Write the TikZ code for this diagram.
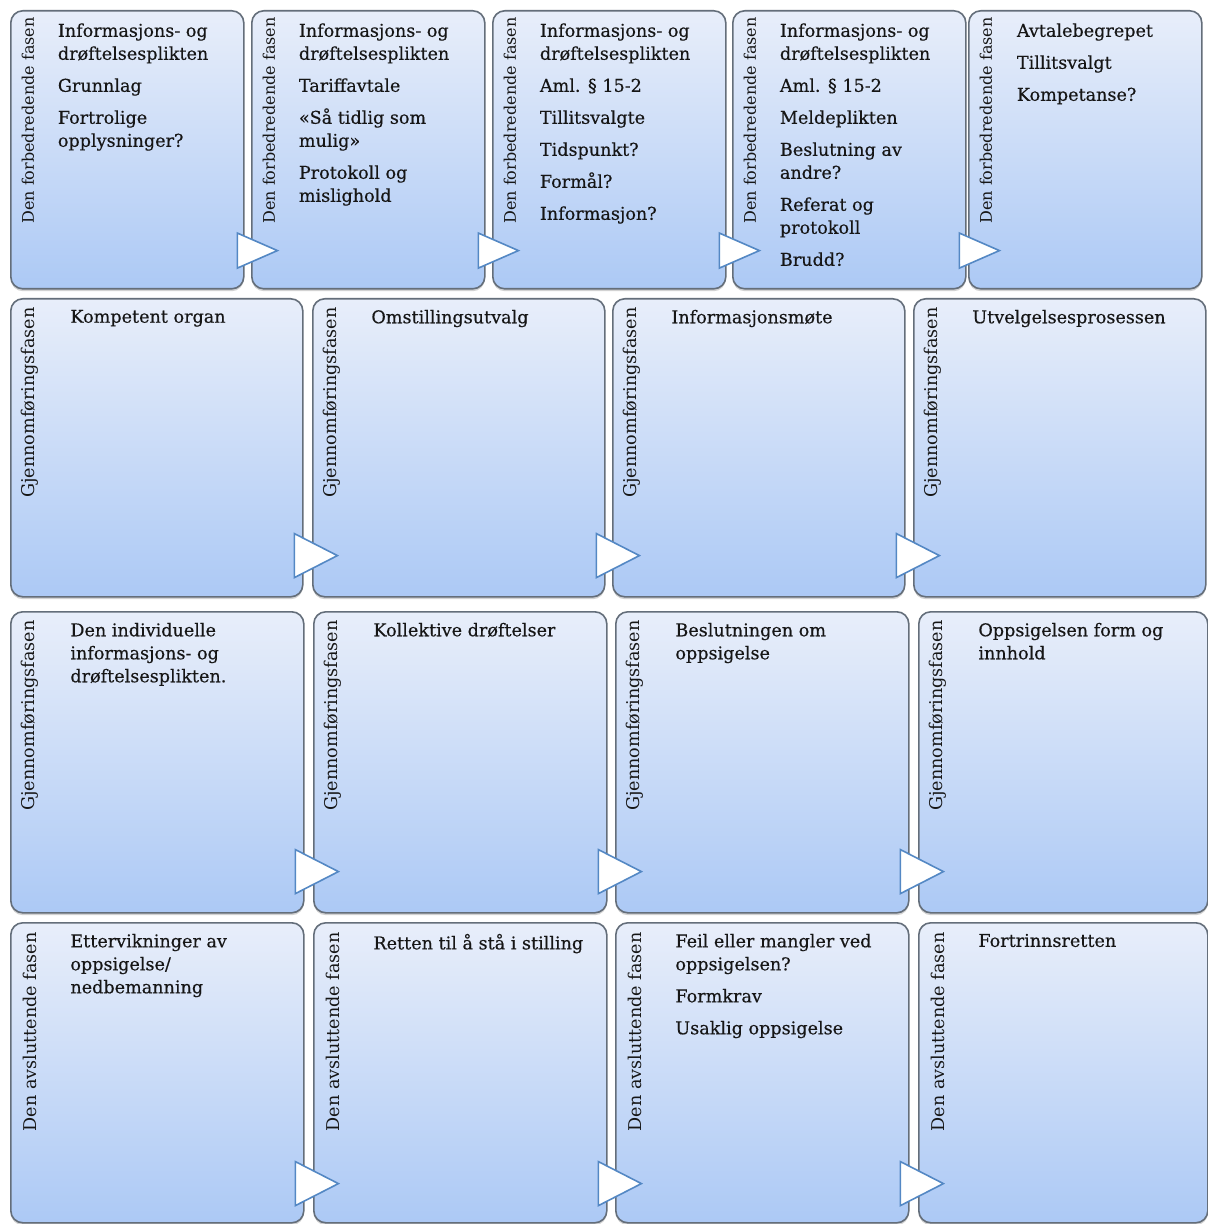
\documentclass[tikz,border=0pt]{standalone}
\usepackage{fontspec}
\setmainfont{DejaVu Serif}
\newfontfamily\cardfont[FakeBold=0.35]{DejaVu Serif}
\usetikzlibrary{calc,shadows,shapes.geometric}

\definecolor{cardtop}{RGB}{232,238,250}
\definecolor{cardbot}{RGB}{172,201,245}
\definecolor{cardline}{RGB}{100,110,122}
\definecolor{triline}{RGB}{84,136,196}
\definecolor{ink}{RGB}{22,22,22}

\begin{document}
\begin{tikzpicture}[x=0.5pt, y=-0.5pt,
    card/.style={draw=cardline, line width=0.8pt, rounded corners=6pt,
      top color=cardtop, bottom color=cardbot, anchor=north west, inner sep=0pt,
      drop shadow={shadow xshift=0pt, shadow yshift=-1.2pt, opacity=0.35}},
    size1/.style={minimum width=116.5pt, minimum height=139pt},
    size2/.style={minimum width=146pt, minimum height=149pt},
    size3/.style={minimum width=146.5pt, minimum height=150.5pt},
    size4/.style={minimum width=146.5pt, minimum height=150pt},
    phase/.style={rotate=90, anchor=east, inner sep=0pt, text=ink,
      font=\fontsize{8.8}{10}\selectfont},
    phasesmall/.style={phase, font=\fontsize{8}{9.6}\selectfont},
    body/.style={anchor=north west, align=left, inner sep=0pt, text=ink,
      font=\cardfont\fontsize{8.8}{11.5}\selectfont},
    tri/.style={isosceles triangle, isosceles triangle stretches, draw=triline,
      fill=white, line width=0.8pt, inner sep=0pt, anchor=west,
      minimum width=22pt, minimum height=21.5pt},
    trismall/.style={tri, minimum width=17.5pt, minimum height=20pt}]

  \fill[white] (0,0) rectangle (1207,1224);
  \useasboundingbox (0,0) rectangle (1207,1224);

  % Boxes
  \node[card, size1] (f1) at (10,10) {};
  \node[card, size1] (f2) at (251,10) {};
  \node[card, size1] (f3) at (492,10) {};
  \node[card, size1] (f4) at (732,10) {};
  \node[card, size1] (f5) at (968,10) {};

  \node[card, size2] (g1) at (10,298) {};
  \node[card, size2] (g2) at (312,298) {};
  \node[card, size2] (g3) at (612,298) {};
  \node[card, size2] (g4) at (913,298) {};

  \node[card, size3] (h1) at (10,611) {};
  \node[card, size3] (h2) at (313,611) {};
  \node[card, size3] (h3) at (615,611) {};
  \node[card, size3, minimum width=144.5pt] (h4) at (918,611) {};

  \node[card, size4] (s1) at (10,922) {};
  \node[card, size4] (s2) at (313,922) {};
  \node[card, size4] (s3) at (615,922) {};
  \node[card, size4, minimum width=144.5pt] (s4) at (918,922) {};

  % Arrows between boxes
  \node[trismall] (fa1) at ($(f1.south east)+(-8,-39)$) {};
  \node[trismall] (fa2) at ($(f2.south east)+(-8,-39)$) {};
  \node[trismall] (fa3) at ($(f3.south east)+(-8,-39)$) {};
  \node[trismall] (fa4) at ($(f4.south east)+(-8,-39)$) {};

  \node[tri] (ga1) at ($(g1.south east)+(-10,-42)$) {};
  \node[tri] (ga2) at ($(g2.south east)+(-10,-42)$) {};
  \node[tri] (ga3) at ($(g3.south east)+(-10,-42)$) {};

  \node[tri] (ha1) at ($(h1.south east)+(-10,-42)$) {};
  \node[tri] (ha2) at ($(h2.south east)+(-10,-42)$) {};
  \node[tri] (ha3) at ($(h3.south east)+(-10,-42)$) {};

  \node[tri] (sa1) at ($(s1.south east)+(-10,-40)$) {};
  \node[tri] (sa2) at ($(s2.south east)+(-10,-40)$) {};
  \node[tri] (sa3) at ($(s3.south east)+(-10,-40)$) {};

  % Phase labels
  \node[phasesmall] (fl1) at ($(f1.north west)+(18,7)$) {Den forbedredende fasen};
  \node[phasesmall] (fl2) at ($(f2.north west)+(18,7)$) {Den forbedredende fasen};
  \node[phasesmall] (fl3) at ($(f3.north west)+(18,7)$) {Den forbedredende fasen};
  \node[phasesmall] (fl4) at ($(f4.north west)+(18,7)$) {Den forbedredende fasen};
  \node[phasesmall] (fl5) at ($(f5.north west)+(18,7)$) {Den forbedredende fasen};

  \node[phase] (gl1) at ($(g1.north west)+(20,9)$) {Gjennomføringsfasen};
  \node[phase] (gl2) at ($(g2.north west)+(20,9)$) {Gjennomføringsfasen};
  \node[phase] (gl3) at ($(g3.north west)+(20,9)$) {Gjennomføringsfasen};
  \node[phase] (gl4) at ($(g4.north west)+(20,9)$) {Gjennomføringsfasen};

  \node[phase] (hl1) at ($(h1.north west)+(20,9)$) {Gjennomføringsfasen};
  \node[phase] (hl2) at ($(h2.north west)+(20,9)$) {Gjennomføringsfasen};
  \node[phase] (hl3) at ($(h3.north west)+(20,9)$) {Gjennomføringsfasen};
  \node[phase] (hl4) at ($(h4.north west)+(20,9)$) {Gjennomføringsfasen};

  \node[phase] (sl1) at ($(s1.north west)+(20,10)$) {Den avsluttende fasen};
  \node[phase] (sl2) at ($(s2.north west)+(20,10)$) {Den avsluttende fasen};
  \node[phase] (sl3) at ($(s3.north west)+(20,10)$) {Den avsluttende fasen};
  \node[phase] (sl4) at ($(s4.north west)+(20,10)$) {Den avsluttende fasen};

  % Contents
  \node[body] (ft1) at ($(f1.north west)+(47.5,13)$) {Informasjons- og\\drøftelsesplikten\\[4.5pt]
    Grunnlag\\[4.5pt] Fortrolige\\opplysninger?};
  \node[body] (ft2) at ($(f2.north west)+(47.5,13)$) {Informasjons- og\\drøftelsesplikten\\[4.5pt]
    Tariffavtale\\[4.5pt] «Så tidlig som\\mulig»\\[4.5pt] Protokoll og\\mislighold};
  \node[body] (ft3) at ($(f3.north west)+(47.5,13)$) {Informasjons- og\\drøftelsesplikten\\[4.5pt]
    Aml. § 15-2\\[4.5pt] Tillitsvalgte\\[4.5pt] Tidspunkt?\\[4.5pt] Formål?\\[4.5pt] Informasjon?};
  \node[body] (ft4) at ($(f4.north west)+(47.5,13)$) {Informasjons- og\\drøftelsesplikten\\[4.5pt]
    Aml. § 15-2\\[4.5pt] Meldeplikten\\[4.5pt] Beslutning av\\andre?\\[4.5pt]
    Referat og\\protokoll\\[4.5pt] Brudd?};
  \node[body] (ft5) at ($(f5.north west)+(48.5,13)$) {Avtalebegrepet\\[4.5pt] Tillitsvalgt\\[4.5pt] Kompetanse?};

  \node[body] (gt1) at ($(g1.north west)+(60,11.5)$) {Kompetent organ};
  \node[body] (gt2) at ($(g2.north west)+(59,11.5)$) {Omstillingsutvalg};
  \node[body] (gt3) at ($(g3.north west)+(59,11.5)$) {Informasjonsmøte};
  \node[body] (gt4) at ($(g4.north west)+(59,11.5)$) {Utvelgelsesprosessen};

  \node[body] (ht1) at ($(h1.north west)+(60,11.5)$) {Den individuelle\\informasjons- og\\drøftelsesplikten.};
  \node[body] (ht2) at ($(h2.north west)+(60,11.5)$) {Kollektive drøftelser};
  \node[body] (ht3) at ($(h3.north west)+(60,11.5)$) {Beslutningen om\\oppsigelse};
  \node[body] (ht4) at ($(h4.north west)+(60,11.5)$) {Oppsigelsen form og\\innhold};

  \node[body] (st1) at ($(s1.north west)+(60,11.5)$) {Ettervikninger av\\oppsigelse/\\nedbemanning};
  \node[body] (st2) at ($(s2.north west)+(60,11.5)$) {Retten til å stå i stilling};
  \node[body] (st3) at ($(s3.north west)+(60,11.5)$) {Feil eller mangler ved\\oppsigelsen?\\[4.5pt]
    Formkrav\\[4.5pt] Usaklig oppsigelse};
  \node[body] (st4) at ($(s4.north west)+(60,11.5)$) {Fortrinnsretten};

\end{tikzpicture}
\end{document}
